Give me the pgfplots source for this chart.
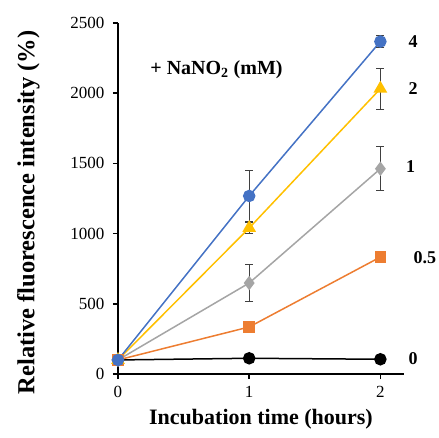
\documentclass[border=0pt]{standalone}
\usepackage{pgfplots}
\pgfplotsset{compat=1.18}
\usepackage{fontspec}
\setmainfont{Liberation Serif}

\definecolor{cblue}{HTML}{4472C4}
\definecolor{cyellow}{HTML}{FFC000}
\definecolor{cgray}{HTML}{A5A5A5}
\definecolor{corange}{HTML}{ED7D31}

\begin{document}
\begin{tikzpicture}[x=1pt,y=1pt]
\useasboundingbox (-118,-63) rectangle (321,374);
\begin{axis}[
  at={(0,0)}, anchor=origin,
  scale only axis,
  width=286pt, height=351pt,
  xmin=0, xmax=2.18,
  ymin=0, ymax=2500,
  axis x line=bottom, axis y line=left,
  axis line style={-, line width=2.2pt},
  xtick={0,1,2}, ytick={0,500,...,2500},
  tick style={black, line width=1.6pt},
  major tick length=5pt,
  tick align=outside,
  tick label style={font=\fontsize{17}{17}\selectfont},
  xticklabel style={yshift=-4pt},
  yticklabel style={xshift=-5pt},
  /pgf/number format/assume math mode=true,
  /pgf/number format/1000 sep={},
  xlabel={\textbf{Incubation time (hours)}},
  ylabel={\textbf{Relative fluorescence intensity (\%)}},
  xlabel style={font=\fontsize{22}{22}\selectfont, yshift=-4pt},
  ylabel style={font=\fontsize{24.5}{24.5}\selectfont, yshift=24pt, xshift=-14pt},
  clip=false,
  every axis plot/.append style={line width=1.5pt},
  error bars/error bar style={line width=1pt, black!75},
  error bars/error mark options={rotate=90, mark size=4pt, line width=1pt, black!75},
]
\addplot[black, mark=*, mark size=5.5pt] coordinates {(0,100) (1,112) (2,105)};
\addplot[corange, mark=square*, mark size=5pt] coordinates {(0,100) (1,335) (2,833)};
\addplot[cgray, mark=diamond*, mark size=6pt,
  error bars/.cd, y dir=both, y explicit]
  coordinates {(0,100) +- (0,0) (1,648) +- (0,132) (2,1462) +- (0,157)};
\addplot[cyellow, mark=triangle*, mark size=6.5pt,
  error bars/.cd, y dir=both, y explicit]
  coordinates {(0,100) +- (0,0) (1,1040) +- (0,40) (2,2032) +- (0,147)};
\addplot[cblue, mark=*, mark size=5.5pt,
  error bars/.cd, y dir=both, y explicit]
  coordinates {(0,100) +- (0,0) (1,1268) +- (0,185) (2,2368) +- (0,45)};

\node[font=\fontsize{18}{18}\selectfont\bfseries] at (axis cs:2.25,2370) {4};
\node[font=\fontsize{18}{18}\selectfont\bfseries] at (axis cs:2.25,2030) {2};
\node[font=\fontsize{18}{18}\selectfont\bfseries] at (axis cs:2.23,1480) {1};
\node[font=\fontsize{18}{18}\selectfont\bfseries] at (axis cs:2.34,830) {0.5};
\node[font=\fontsize{18}{18}\selectfont\bfseries] at (axis cs:2.25,110) {0};
\node[font=\fontsize{20}{20}\selectfont\bfseries, anchor=west] at (axis cs:0.22,2170) {+ NaNO\textsubscript{2} (mM)};
\end{axis}
\end{tikzpicture}
\end{document}
